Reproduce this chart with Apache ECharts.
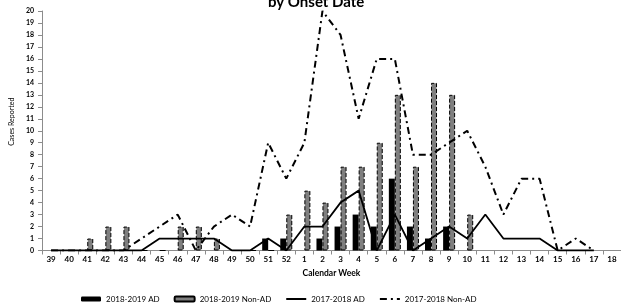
<!DOCTYPE html>
<html>
<head>
<meta charset="utf-8">
<script src="https://cdn.jsdelivr.net/npm/echarts@6/dist/echarts.min.js"></script>
<style>
  html, body { margin: 0; padding: 0; background: #fff; }
  #chart { width: 621px; height: 304px; }
</style>
</head>
<body>
<div id="chart"></div>
<script>
// calendar weeks 39..52 then 1..18
const weeks = ['39', '40', '41', '42', '43', '44', '45', '46', '47', '48', '49', '50', '51', '52',
  '1', '2', '3', '4', '5', '6', '7', '8', '9', '10', '11', '12', '13', '14', '15', '16', '17', '18'];

const ad1819 = [0, 0, 0, 0, 0, 0, 0, 0, 0, 0, 0, 0, 1, 1,
  0, 1, 2, 3, 2, 6, 2, 1, 2, 0, null, null, null, null, null, null, null, null];
const nonAd1819 = [0, 0, 1, 2, 2, 0, 0, 2, 2, 1, 0, 0, 0, 3,
  5, 4, 7, 7, 9, 13, 7, 14, 13, 3, null, null, null, null, null, null, null, null];
const ad1718 = [0, 0, 0, 0, 0, 0, 1, 1, 1, 1, 0, 0, 1, 0,
  2, 2, 4, 5, 0, 3, 0, 1, 2, 1, 3, 1, 1, 1, 0, 0, 0, null];
const nonAd1718 = [0, 0, 0, 0, 0, 1, 2, 3, 0, 2, 3, 2, 9, 6,
  9, 20, 18, 11, 16, 16, 8, 8, 9, 10, 7, 3, 6, 6, 0, 1, 0, null];

const font = 'Lato';
const chart = echarts.init(document.getElementById('chart'));

chart.setOption({
  animation: false,
  title: {
    text: 'by Onset Date',
    left: 263,
    top: -10,
    textStyle: { fontFamily: font, fontSize: 15, fontWeight: 'bold', color: '#000' },
  },
  grid: {
    left: 39,
    width: 586,
    top: 11,
    height: 239.5,
  },
  legend: {
    left: 76,
    top: 290,
    itemWidth: 20,
    itemHeight: 5,
    itemGap: 14,
    textStyle: { fontFamily: font, fontSize: 8, color: '#000' },
    data: ['2018-2019 AD', '2018-2019 Non-AD', '2017-2018 AD', '2017-2018 Non-AD'],
  },
  xAxis: {
    type: 'category',
    data: weeks,
    name: 'Calendar Week',
    nameLocation: 'middle',
    nameGap: 16,
    nameTextStyle: { fontFamily: font, fontSize: 8.5, fontWeight: 'bold', color: '#000' },
    axisLine: { lineStyle: { color: '#8c8c8c' } },
    axisTick: { show: true, length: 4, lineStyle: { color: '#8c8c8c' } },
    axisLabel: { fontFamily: font, fontSize: 8, fontWeight: 'bold', color: '#000', margin: 5, interval: 0 },
  },
  yAxis: {
    type: 'value',
    min: 0,
    max: 20,
    interval: 1,
    name: 'Cases Reported',
    nameLocation: 'middle',
    nameGap: 25,
    nameTextStyle: { fontFamily: font, fontSize: 7, color: '#000', padding: [0, 0, 0, 18] },
    axisLine: { show: true, lineStyle: { color: '#8c8c8c' } },
    axisTick: { show: true, length: 4, lineStyle: { color: '#8c8c8c' } },
    axisLabel: { fontFamily: font, fontSize: 7, fontWeight: 'bold', color: '#000', margin: 8 },
    splitLine: { show: false },
  },
  series: [
    {
      name: '2018-2019 AD',
      type: 'bar',
      data: ad1819,
      barWidth: 6,
      barGap: '0%',
      itemStyle: { color: '#000' },
    },
    {
      name: '2018-2019 Non-AD',
      type: 'bar',
      data: nonAd1819,
      barWidth: 6,
      itemStyle: { color: '#7f7f7f', borderColor: '#000', borderWidth: 1, borderType: 'dashed' },
    },
    {
      name: '2017-2018 AD',
      type: 'line',
      data: ad1718,
      symbol: 'none',
      lineStyle: { color: '#000', width: 1.8 },
      // hides the marker dot in the legend icon
      itemStyle: { color: '#000', opacity: 0 },
    },
    {
      name: '2017-2018 Non-AD',
      type: 'line',
      data: nonAd1718,
      symbol: 'none',
      lineStyle: { color: '#000', width: 2, type: [7, 4, 2, 4] },
      itemStyle: { color: '#000', opacity: 0 },
    },
  ],
});
</script>
</body>
</html>
